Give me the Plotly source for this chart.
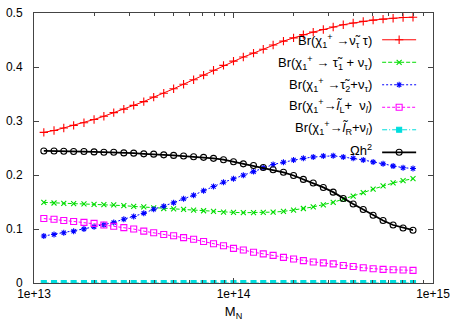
import plotly.graph_objects as go

M_N = [1.12e13, 1.26e13, 1.41e13, 1.58e13, 1.78e13, 2.00e13, 2.24e13, 2.51e13, 2.82e13, 3.16e13,
       3.55e13, 3.98e13, 4.47e13, 5.01e13, 5.62e13, 6.31e13, 7.08e13, 7.94e13, 8.91e13, 1.00e14,
       1.12e14, 1.26e14, 1.41e14, 1.58e14, 1.78e14, 2.00e14, 2.24e14, 2.51e14, 2.82e14, 3.16e14,
       3.55e14, 3.98e14, 4.47e14, 5.01e14, 5.62e14, 6.31e14, 7.08e14, 7.94e14]

br_snu_tau = [0.279, 0.2824, 0.2872, 0.292, 0.2968, 0.3029, 0.3088, 0.3155, 0.322, 0.329,
              0.336, 0.3442, 0.3514, 0.3597, 0.3682, 0.3766, 0.385, 0.394, 0.403, 0.411,
              0.4185, 0.4257, 0.433, 0.4407, 0.448, 0.454, 0.46, 0.4647, 0.4694, 0.4743,
              0.4784, 0.4815, 0.4845, 0.4869, 0.4887, 0.4905, 0.4917, 0.4923]

br_stau1_nu = [0.1493, 0.1482, 0.1475, 0.147, 0.1464, 0.1457, 0.1451, 0.1446, 0.1433, 0.1418,
               0.141, 0.1392, 0.138, 0.1374, 0.1362, 0.1349, 0.1338, 0.1326, 0.1313, 0.1308,
               0.1302, 0.1302, 0.1308, 0.1313, 0.1326, 0.1349, 0.138, 0.141, 0.1446, 0.1493,
               0.1554, 0.1608, 0.1673, 0.1739, 0.1799, 0.1853, 0.1896, 0.1932]

br_stau2_nu = [0.087, 0.09, 0.093, 0.096, 0.1002, 0.1043, 0.1079, 0.1122, 0.1182, 0.1233,
               0.129, 0.1367, 0.1421, 0.1487, 0.1559, 0.1626, 0.1709, 0.1788, 0.1865, 0.193,
               0.1996, 0.2063, 0.2135, 0.2194, 0.2237, 0.2279, 0.2309, 0.2333, 0.2351, 0.2356,
               0.2333, 0.2309, 0.2279, 0.2243, 0.2207, 0.2165, 0.2135, 0.2122]

br_slL_nu = [0.1194, 0.1182, 0.1158, 0.114, 0.1122, 0.1104, 0.1074, 0.105, 0.1025, 0.0999,
             0.096, 0.093, 0.0899, 0.0876, 0.084, 0.0809, 0.0768, 0.0726, 0.069, 0.0642,
             0.0612, 0.057, 0.054, 0.0511, 0.0475, 0.0444, 0.0414, 0.039, 0.0372, 0.0354,
             0.0324, 0.0306, 0.0282, 0.0264, 0.0252, 0.0246, 0.024, 0.0234]

br_slR_nu = [0.0] * 38

omega_h2 = [0.2446, 0.2446, 0.244, 0.2435, 0.2435, 0.2428, 0.2423, 0.2423, 0.241, 0.2405,
            0.2392, 0.2387, 0.2374, 0.2363, 0.2351, 0.2338, 0.2327, 0.2309, 0.2284, 0.2245,
            0.2207, 0.2176, 0.214, 0.2099, 0.205, 0.1991, 0.1919, 0.1853, 0.177, 0.1683,
            0.1565, 0.1464, 0.1362, 0.1254, 0.1158, 0.1074, 0.102, 0.0978]

labels = [
    "Br(χ<sub>1</sub><sup>+</sup> →ν̃<sub>τ</sub> τ)",
    "Br(χ<sub>1</sub><sup>+</sup> → τ̃<sub>1</sub> + ν<sub>τ</sub>)",
    "Br(χ<sub>1</sub><sup>+</sup> →τ̃<sub>2</sub>+ν<sub>τ</sub>)",
    "Br(χ<sub>1</sub><sup>+</sup>→<i>l̃</i><sub>L</sub>+  ν<sub><i>l</i></sub>)",
    "Br(χ<sub>1</sub><sup>+</sup>→<i>l̃</i><sub>R</sub>+ν<sub><i>l</i></sub>)",
    "Ωh<sup>2</sup>",
]

x_ticks = [1e13, 1e14, 1e15]
x_ticktext = ["1e+13", "1e+14", "1e+15"]
y_ticks = [0, 0.1, 0.2, 0.3, 0.4, 0.5]
y_ticktext = ["0", "0.1", "0.2", "0.3", "0.4", "0.5"]

styles = [
    (br_snu_tau, "#ff0000", "solid", "cross-thin-open", 6, 1.0),
    (br_stau1_nu, "#00dd00", "4px,2px", "x-thin-open", 5, 1.0),
    (br_stau2_nu, "#0000ff", "2px,2px", "asterisk-open", 5, 1.0),
    (br_slL_nu, "#ff00ff", "3px,2px", "square-open", 6, 1.0),
    (br_slR_nu, "#00dddd", "5px,2px,1px,2px", "square", 5, 1.0),
    (omega_h2, "#000000", "solid", "circle-open", 6, 1.8),
]

fig = go.Figure()
for (vals, col, dash, sym, size, lw) in styles:
    fig.add_trace(go.Scatter(
        x=M_N, y=vals, mode="lines+markers", name=" ",
        line=dict(color=col, width=lw, dash=dash),
        marker=dict(symbol=sym, size=size, color=col, line=dict(color=col, width=1.1)),
    ))

row_y = [0.8965, 0.816, 0.7347, 0.6567, 0.5729, 0.4924]
for txt, yy in zip(labels, row_y):
    fig.add_annotation(x=0.851, y=yy, xref="paper", yref="paper", text=txt,
                       showarrow=False, xanchor="right", yanchor="middle",
                       font=dict(size=13, color="#000000"))

axis_common = dict(showline=True, linecolor="#444444", linewidth=1, mirror="ticks",
                   ticks="inside", tickcolor="#444444", showgrid=False, zeroline=False,
                   ticklabeloverflow="allow",
                   tickfont=dict(family="Liberation Sans, Arial", size=12, color="#000000"))

fig.update_xaxes(type="log", range=[13, 15], tickvals=x_ticks, ticktext=x_ticktext, ticklen=5,
                 minor=dict(ticks="inside", ticklen=3, dtick="D1", tickcolor="#444444", showgrid=False),
                 title=dict(text="M<sub>N</sub>", font=dict(family="Liberation Sans, Arial", size=13), standoff=6),
                 **axis_common)
fig.update_yaxes(range=[0, 0.5001], tickvals=y_ticks, ticktext=y_ticktext, ticklen=5,
                 ticklabelstandoff=8, **axis_common)

fig.update_layout(
    width=456, height=324,
    margin=dict(l=27, r=20, t=6, b=41),
    paper_bgcolor="white", plot_bgcolor="white",
    font=dict(family="Liberation Sans, Arial", size=12, color="#000000"),
    showlegend=True,
    legend=dict(x=0.86, y=0.961, xanchor="left", yanchor="top", bgcolor="rgba(0,0,0,0)",
                font=dict(size=15), itemwidth=34, tracegroupgap=0),
)

fig.write_html("out.html", config={"displayModeBar": False},
               post_script="document.body.style.margin='0';document.body.style.overflow='hidden';")
